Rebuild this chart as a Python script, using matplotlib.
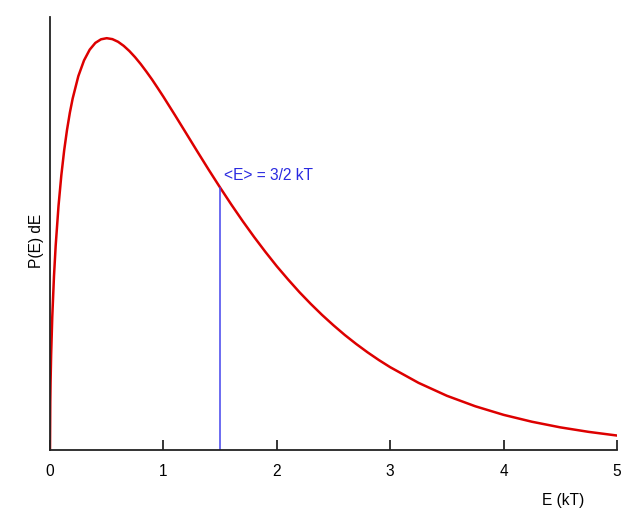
import matplotlib
matplotlib.use("Agg")
import matplotlib.pyplot as plt

# energy (kT) and probability density
E = [0, 0.0025, 0.005, 0.01, 0.02, 0.035, 0.05, 0.075, 0.1, 0.125, 0.15, 0.175,
     0.2, 0.25, 0.3, 0.35, 0.4, 0.45, 0.5, 0.55, 0.6, 0.65, 0.7, 0.75, 0.8,
     0.85, 0.9, 0.95, 1.0, 1.1, 1.2, 1.3, 1.4, 1.5, 1.6, 1.7, 1.8, 1.9, 2.0,
     2.1, 2.2, 2.3, 2.4, 2.5, 2.6, 2.7, 2.8, 2.9, 3.0, 3.25, 3.5, 3.75, 4.0,
     4.25, 4.5, 4.75, 5.0]
P = [0, 0.0563, 0.0794, 0.1117, 0.1564, 0.2039, 0.2400, 0.2867, 0.3229, 0.3521,
     0.3761, 0.3963, 0.4131, 0.4394, 0.4578, 0.4704, 0.4784, 0.4826, 0.4839,
     0.4828, 0.4797, 0.4749, 0.4688, 0.4616, 0.4535, 0.4446, 0.4353, 0.4253,
     0.4151, 0.3939, 0.3723, 0.3506, 0.3292, 0.3084, 0.2882, 0.2688, 0.2503,
     0.2327, 0.2159, 0.2003, 0.1854, 0.1716, 0.1586, 0.1465, 0.1351, 0.1246,
     0.1148, 0.1057, 0.0973, 0.0789, 0.0637, 0.0514, 0.0413, 0.0332, 0.0266,
     0.0213, 0.0170]
E_mean = 1.5
P_mean = 0.3084
xticks = [0, 1, 2, 3, 4, 5]

plt.rcParams['font.family'] = ['Liberation Sans', 'DejaVu Sans']
fig = plt.figure(figsize=(6.4, 5.12), dpi=100)
ax = fig.add_axes([50/640, 1-450/512, 567/640, 433/512])

ax.plot(E, P, color='#dd0000', lw=1.8, solid_joinstyle='round')
ax.plot([E_mean, E_mean], [0, P_mean], color='#4444ee', lw=1.1)
ax.text(E_mean + 0.03, P_mean + 0.005, "<E> = 3/2 kT", color='#2a2ae0', fontsize=11.2,
        va='bottom', ha='left')

ax.set_xlim(0, 5)
ax.set_ylim(0, 0.5088)
for s in ['top', 'right']:
    ax.spines[s].set_visible(False)
for s in ['left', 'bottom']:
    ax.spines[s].set_linewidth(1.3)
    ax.spines[s].set_color('#222222')
ax.set_xticks(xticks)
ax.set_yticks([])
ax.tick_params(axis='x', direction='in', length=7, width=1.1, labelsize=11.2, pad=10)
ax.set_xlabel("E (kT)", fontsize=11.2)
ax.xaxis.set_label_coords(0.905, -0.1)
ax.set_ylabel("P(E) dE", fontsize=11.2)
ax.yaxis.set_label_coords(-0.01, 0.483)

fig.savefig("out.png", dpi=100)
